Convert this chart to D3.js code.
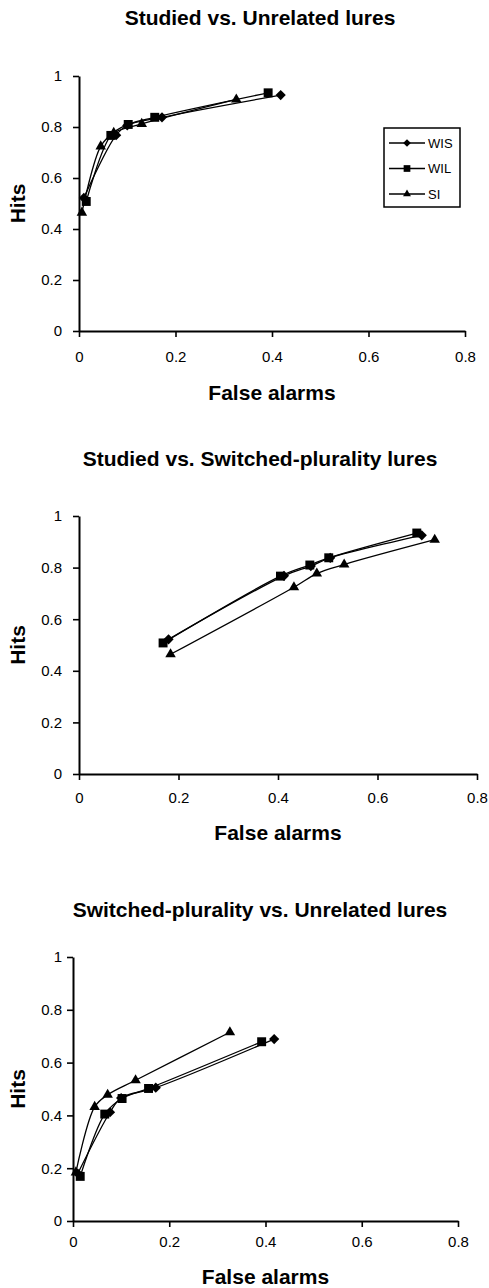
<!DOCTYPE html>
<html>
<head>
<meta charset="utf-8">
<script src="https://cdn.jsdelivr.net/npm/d3@7"></script>
<style>
  body { margin: 0; background: #fff; }
  svg { display: block; font-family: "Liberation Sans", Arial, sans-serif; }
</style>
</head>
<body>
<svg id="chart" width="489" height="1288"></svg>
<script>
  // ROC points (5 confidence criteria per condition)
  var conditions = ["WIS", "WIL", "SI"];

  var wisStudiedHits = [0.522, 0.768, 0.806, 0.838, 0.925];
  var wilStudiedHits = [0.508, 0.767, 0.810, 0.838, 0.934];
  var siStudiedHits  = [0.464, 0.724, 0.777, 0.812, 0.908];

  var wisUnrelatedFA = [0.010, 0.077, 0.100, 0.172, 0.418];
  var wilUnrelatedFA = [0.015, 0.066, 0.102, 0.157, 0.392];
  var siUnrelatedFA  = [0.006, 0.045, 0.072, 0.130, 0.326];

  var wisSwitchedFA = [0.180, 0.412, 0.466, 0.505, 0.689];
  var wilSwitchedFA = [0.169, 0.405, 0.464, 0.502, 0.679];
  var siSwitchedFA  = [0.184, 0.432, 0.478, 0.533, 0.715];

  var xTicks = [0, 0.2, 0.4, 0.6, 0.8];
  var yTicks = [0, 0.2, 0.4, 0.6, 0.8, 1];

  var panels = [
    { title: "Studied vs. Unrelated lures",
      xs: [wisUnrelatedFA, wilUnrelatedFA, siUnrelatedFA],
      ys: [wisStudiedHits, wilStudiedHits, siStudiedHits],
      l: 79, r: 465, t: 76, b: 331, titleY: 25, tickY: 31, labelY: 400, legend: true },
    { title: "Studied vs. Switched-plurality lures",
      xs: [wisSwitchedFA, wilSwitchedFA, siSwitchedFA],
      ys: [wisStudiedHits, wilStudiedHits, siStudiedHits],
      l: 79, r: 477, t: 516, b: 774, titleY: 466, tickY: 29, labelY: 840, legend: false },
    { title: "Switched-plurality vs. Unrelated lures",
      xs: [wisUnrelatedFA, wilUnrelatedFA, siUnrelatedFA],
      ys: [wisSwitchedFA, wilSwitchedFA, siSwitchedFA],
      l: 73, r: 458, t: 957, b: 1221, titleY: 917, tickY: 26, labelY: 1284, legend: false }
  ];

  var svg = d3.select("#chart");

  function marker(name, scale) {
    scale = scale || 1;
    if (name === "WIS") return { d: d3.symbol().type(d3.symbolSquare).size(52 * scale * scale)(), rot: 45 };
    if (name === "WIL") return { d: d3.symbol().type(d3.symbolSquare).size(80 * scale * scale)(), rot: 0 };
    return { d: d3.symbol().type(d3.symbolTriangle).size(48 * scale * scale)(), rot: 0 };
  }

  panels.forEach(function(p) {
    var g = svg.append("g");
    var x = d3.scaleLinear().domain([0, 0.8]).range([p.l, p.r]);
    var y = d3.scaleLinear().domain([0, 1]).range([p.b, p.t]);

    g.append("text")
      .attr("x", 260).attr("y", p.titleY)
      .attr("text-anchor", "middle")
      .style("font-size", "21px").style("font-weight", "bold")
      .text(p.title);

    var xa = g.append("g").attr("transform", "translate(0," + p.b + ")")
      .call(d3.axisBottom(x).tickValues(xTicks).tickFormat(function(d) { return String(d); })
        .tickSize(6).tickSizeOuter(0));
    xa.selectAll("text").attr("dy", null).attr("y", p.tickY);

    var ya = g.append("g").attr("transform", "translate(" + p.l + ",0)")
      .call(d3.axisLeft(y).tickValues(yTicks).tickFormat(function(d) { return String(d); })
        .tickSize(6).tickSizeOuter(0).tickPadding(p.l - 62 - 6));

    [xa, ya].forEach(function(a) {
      a.select(".domain").attr("stroke", "#000").attr("stroke-width", 2);
      a.selectAll(".tick line").attr("stroke", "#000").attr("stroke-width", 1.6);
      a.selectAll("text").attr("fill", "#000").style("font-size", "15px")
        .style("font-family", "'Liberation Sans', Arial, sans-serif");
    });

    g.append("text")
      .attr("x", (p.l + p.r) / 2 + 0).attr("y", p.labelY)
      .attr("text-anchor", "middle")
      .style("font-size", "21px").style("font-weight", "bold")
      .text("False alarms");

    g.append("text")
      .attr("transform", "translate(25," + ((p.t + p.b) / 2) + ") rotate(-90)")
      .attr("text-anchor", "middle")
      .style("font-size", "21px").style("font-weight", "bold")
      .text("Hits");

    var line = d3.line()
      .x(function(d) { return x(d[0]); })
      .y(function(d) { return y(d[1]); })
      .curve(d3.curveCatmullRom.alpha(0.5));

    conditions.forEach(function(c, i) {
      var pts = d3.zip(p.xs[i], p.ys[i]);
      g.append("path").datum(pts)
        .attr("d", line)
        .attr("fill", "none").attr("stroke", "#000").attr("stroke-width", 1.3);
      var m = marker(c);
      g.selectAll(null).data(pts).enter().append("path")
        .attr("d", m.d)
        .attr("transform", function(d) {
          return "translate(" + x(d[0]) + "," + y(d[1]) + ") rotate(" + m.rot + ")";
        })
        .attr("fill", "#000");
    });

    if (p.legend) {
      var lg = g.append("g");
      lg.append("rect").attr("x", 384).attr("y", 128).attr("width", 76).attr("height", 79)
        .attr("fill", "#fff").attr("stroke", "#000").attr("stroke-width", 1.5);
      conditions.forEach(function(c, i) {
        var ly = 143 + i * 25.5;
        lg.append("line").attr("x1", 389).attr("x2", 425).attr("y1", ly).attr("y2", ly)
          .attr("stroke", "#000").attr("stroke-width", 1.3);
        var m = marker(c, 0.75);
        lg.append("path").attr("d", m.d)
          .attr("transform", "translate(407," + ly + ") rotate(" + m.rot + ")")
          .attr("fill", "#000");
        lg.append("text").attr("x", 428).attr("y", ly + 4.5)
          .style("font-size", "13px").text(c);
      });
    }
  });
</script>
</body>
</html>
